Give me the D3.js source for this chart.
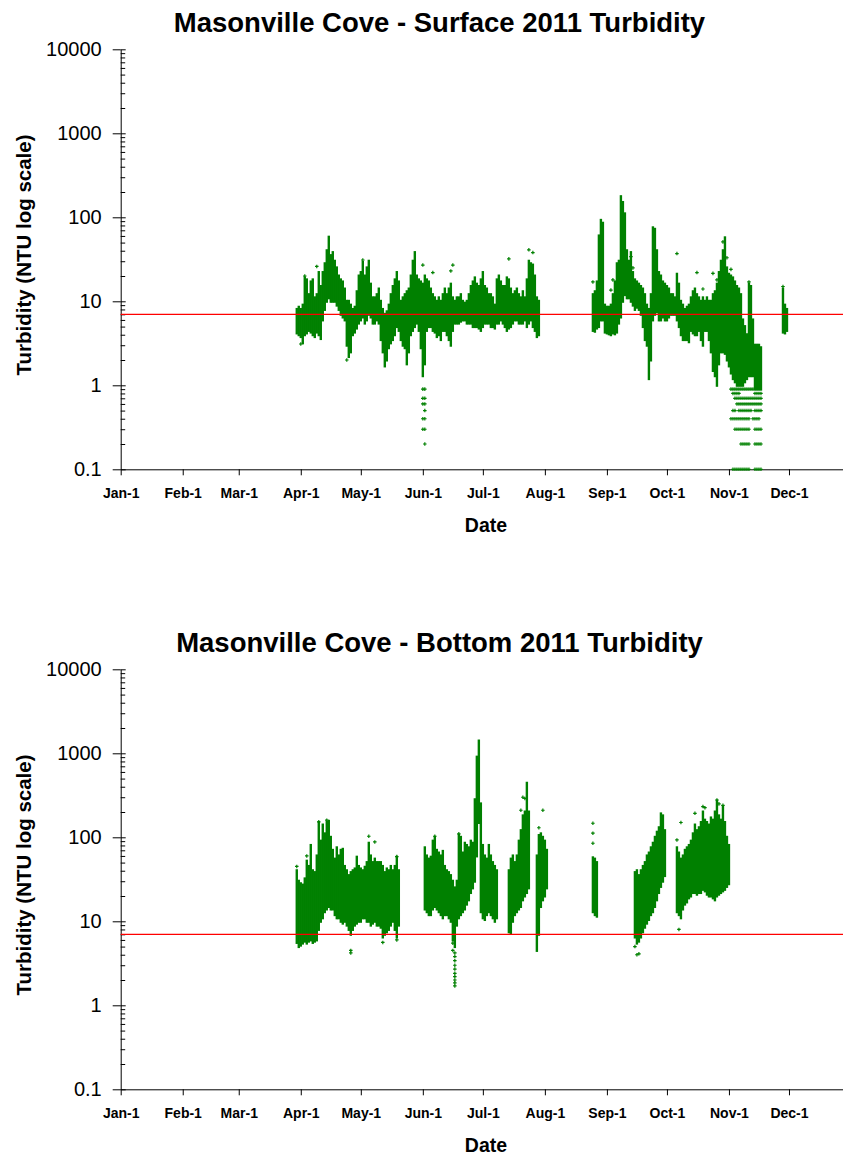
<!DOCTYPE html>
<html>
<head>
<meta charset="utf-8">
<script src="https://cdn.jsdelivr.net/npm/d3@7.9.0/dist/d3.min.js"></script>
<style>
  body { margin: 0; background: #fff; }
  svg { display: block; font-family: Arial, "Liberation Sans", sans-serif; }
</style>
</head>
<body>
<svg id="chart" width="843" height="1155"></svg>
<script>
// day of year (0 = Jan 1 2011), daily low and high turbidity (NTU)
const surfaceDaily = [
  [88,4.2,8],[89,4,8.5],[90,3.8,8],[91,3.2,9],[92,4,19],[93,4.2,18],[94,4.5,12],[95,4.3,17],
  [96,4,18],[97,3.8,11],[98,4.3,12],[99,4,22],[100,3.6,15],[101,6,22],[102,8,28],[103,10,40],
  [104,11,58],[105,10,35],[106,10,38],[107,10,30],[108,9,25],[109,8,20],[110,7,18],[111,6.5,17],
  [112,6,14],[113,3,10],[114,2.2,10],[115,2.5,9],[116,4,8],[117,4.3,8.5],[118,4.8,13],[119,5.5,20],
  [120,6,22],[121,6.5,29],[122,5.5,20],[123,6,25],[124,7,30],[125,6.5,16],[126,5.5,11],[127,5.5,11],
  [128,6,12],[129,5.5,14],[130,3.5,10],[131,2.5,8],[132,1.7,7],[133,2,7.5],[134,2.8,9],[135,3.2,12],
  [136,3.5,15],[137,4,18],[138,5,22],[139,4.5,17],[140,3.5,10],[141,3,11],[142,2.8,12],[143,1.8,13],
  [144,2.5,14],[145,4,20],[146,4.5,30],[147,5,38],[148,5.5,20],[149,4.5,18],[150,2.8,17],[151,1.3,16],
  [152,1.8,20],[153,4.5,18],[154,5,17],[155,5,14],[156,4.5,12],[157,4.3,11],[158,3.8,10],[159,4,11],
  [160,3.5,10],[161,4.5,12],[162,4.5,14],[163,4,12],[164,3.5,14],[165,3,16],[166,4.5,11],[167,5.5,10],
  [168,5.5,11],[169,5.5,11],[170,5.8,12],[171,6,10],[172,6,9.5],[173,5.5,10],[174,5.5,12],[175,5.5,15],
  [176,5,17],[177,5,19],[178,5,16],[179,4.8,15],[180,4.5,18],[181,5,22],[182,5.5,15],[183,5.5,14],
  [184,5.5,12],[185,5,12],[186,5,11],[187,4.8,9],[188,5.5,18],[189,5.5,20],[190,6,17],[191,5.5,15],
  [192,5,15],[193,4.5,19],[194,4.8,18],[195,5,14],[196,5.5,12],[197,6,13],[198,6,14],[199,5.5,12],
  [200,5.5,11],[201,5.5,13],[202,6,11],[203,5,18],[204,5.5,30],[205,6,28],[206,5,27],[207,4.5,20],
  [208,3.8,11],[209,4,10],
  [236,4.5,12],[237,4.4,13],[238,4.8,17],[239,5,60],[240,6,92],[241,6,85],[242,4.3,9],[243,4.2,8.5],
  [244,4.1,8.5],[245,4,9],[246,4.2,12],[247,4.1,17],[248,4.3,28],[249,5.5,30],[250,6.5,176],[251,10,150],
  [252,12,110],[253,11,40],[254,11,30],[255,10,38],[256,9,22],[257,8,18],[258,8.5,17],[259,8,16],
  [260,7,15],[261,5,14],[262,3.5,12],[263,3,9],[264,1.2,8],[265,2,12],[266,6,75],[267,7,72],
  [268,7.5,40],[269,6,22],[270,6,20],[271,6.5,17],[272,6,16],[273,6,15],[274,6.5,14],[275,7,12],
  [276,7,12],[277,7,11],[278,6,21],[279,5,16],[280,4,10],[281,3.5,9],[282,3.5,8],[283,3.5,8.5],
  [284,3.3,9],[285,4.5,11],[286,4.2,13],[287,4,14],[288,4,12],[289,4.5,11],[290,3.5,10],[291,3,11],
  [292,4.5,10],[293,4.5,11],[294,3.5,10],[295,2.5,10],[296,1.5,12],[297,1.3,13],[298,1,16],[299,1.8,22],
  [300,2.5,30],[301,2.5,40],[302,2.4,57],[303,2,25],[304,1.7,21],[305,1.4,20],[306,1.2,19],[307,1.1,17],
  [308,1,15],[309,1,14],[310,1,12],[311,1,6],[312,1.1,5],[313,1.2,4],[314,1.3,16],[315,1.3,15],
  [316,1.3,6],[317,0.9,3],[318,0.9,3],[319,0.9,3],[320,0.9,2.8],
  [331,4.3,14],[332,4.2,9],[333,4.5,8]
];

// single readings away from the dense bands
const surfaceSingles = [
  [151,0.9],[152,0.9],[151,0.7],[152,0.7],[151,0.6],[152,0.6],[152,0.5],[151,0.4],[152,0.4],
  [151,0.3],[152,0.3],[152,0.2],[92,20],[98,26],[121,31],[151,27],[156,22],[166,27],[165,23],
  [194,32],[204,41],[206,38],[113,2],[90,3.1],[236,17],[246,18],[245,13.6],[255,34],[256,25],
  [278,37],[288,22],[291,14],[296,21.5],[298,18],[301,51],[303,33],[305,24],[314,17],[331,15]
];

// November low readings fall on the 0.1 NTU resolution steps
const surfaceSteps = [0.9, 0.8, 0.7, 0.6, 0.5, 0.4, 0.3, 0.2, 0.1];
const surfaceStepDays = [
  [305,306,307,308,309,310,311,312,313,314,315,316],
  [306,307,308,309,317,318,319,320],
  [307,308,309,310,311,312,313,314,315,316,317,318,319,320],
  [308,309,310,311,312,313,314,315,316,317,318,319,320],
  [306,307,309,310,311,312,313,314,315,317,318,319,320],
  [305,306,307,308,309,310,311,312,313,314,316,317,318,319],
  [307,308,309,310,311,312,313,314,317,318,319,320],
  [310,311,312,313,314,317,318,319,320],
  [306,307,308,309,310,311,312,313,314,317,318,319,320]
];

const bottomDaily = [
  [88,5.6,40],[89,5,30],[90,5.2,28],[91,5.5,27],[92,5.8,32],[93,5.5,52],[94,5.8,45],[95,6,80],
  [96,5.6,40],[97,5.8,38],[98,6,60],[99,8,150],[100,10,90],[101,11,140],[102,13,110],[103,14,150],
  [104,15,155],[105,14,100],[106,14,70],[107,12,55],[108,11,75],[109,11,60],[110,10,70],[111,9.5,72],
  [112,10,45],[113,9,40],[114,8,35],[115,7,38],[116,8,40],[117,9,42],[118,9.5,58],[119,10,45],
  [120,10,42],[121,11,40],[122,11,44],[123,10,50],[124,10,85],[125,9,60],[126,9.5,50],[127,10,55],
  [128,9,50],[129,9,50],[130,8.5,50],[131,6.5,45],[132,7,38],[133,7.5,42],[134,8,40],[135,9,45],
  [136,10,40],[137,8,45],[138,6.5,58],[139,9,40],
  [152,14,75],[153,13,60],[154,12,55],[155,12,58],[156,14,90],[157,15,100],[158,14,70],[159,13,65],
  [160,12,60],[161,11,68],[162,12,45],[163,12,40],[164,11,38],[165,10,35],[166,6,30],[167,5,25],
  [168,9,30],[169,11,105],[170,12,100],[171,13,65],[172,14,85],[173,16,80],[174,18,75],[175,22,90],
  [176,25,85],[177,30,280],[178,60,900],[179,150,1400],[180,13,250],[181,11,80],[182,10.5,60],[183,12,55],
  [184,13,80],[185,12,60],[186,11,50],[187,10,45],[188,11,40],
  [194,7.5,40],[195,7.2,55],[196,10,60],[197,12,50],[198,13,60],[199,14,90],[200,15,120],[201,18,180],
  [202,20,200],[203,22,440],[204,25,200],
  [208,4.5,60],[209,7,105],[210,15,110],[211,18,100],[212,20,90],[213,25,70],
  [236,13,57],[237,12,55],[238,11.5,50],
  [257,6.5,38],[258,5.5,40],[259,5.8,35],[260,6.5,40],[261,7.5,45],[262,8.5,50],[263,9.5,60],[264,10.5,65],
  [265,12,75],[266,13,85],[267,15,100],[268,18,115],[269,22,130],[270,26,190],[271,30,180],[272,35,120],
  [278,13,75],[279,12,65],[280,11,55],[281,14,60],[282,16,70],[283,17,75],[284,19,80],[285,20,90],
  [286,22,110],[287,22,140],[288,21,120],[289,22,130],[290,22,150],[291,24,200],[292,23,160],[293,21,150],
  [294,20,140],[295,20,170],[296,19,160],[297,18,200],[298,20,270],[299,21,180],[300,22,160],[301,23,230],
  [302,24,150],[303,26,100],[304,28,80]
];

const bottomSingles = [
  [115,4.2],[115,4.5],[131,5.6],[138,6],[124,103],[127,88],[138,59],[99,153],[103,160],[88,45],[93,60],
  [166,5.5],[166,4.5],[167,4.2],[167,3.8],[167,3.4],[167,3],[167,2.7],[167,2.4],[167,2.2],[167,2],
  [167,1.85],[167,1.7],[157,103],[169,110],[200,210],[201,300],[202,290],[211,210],[209,130],
  [236,147],[236,112],[236,85],[257,5],[258,4],[259,4.1],[279,8],[278,93],[280,150],[287,193],
  [291,232],[292,225],[298,278],[299,250],[301,240]
];

const yMajor = [0.1, 1, 10, 100, 1000, 10000];
const threshold = 7;
const green = '#008000';

const year0 = new Date(2011, 0, 1);
const toDate = (d) => d3.timeDay.offset(year0, d);
const months = d3.timeMonth.range(year0, new Date(2011, 11, 2));

const svg = d3.select('#chart');

function drawPanel(top, title, daily, singles, stepDays) {
  const g = svg.append('g').attr('transform', `translate(0,${top})`);
  const x = d3.scaleTime().domain([year0, new Date(2012, 0, 1)]).range([120.7, 851]);
  const y = d3.scaleLog().domain([0.1, 10000]).range([469.3, 49.3]);

  g.append('text')
    .attr('x', 439.5).attr('y', 32)
    .attr('text-anchor', 'middle')
    .attr('font-size', 27.5).attr('font-weight', 'bold')
    .text(title);

  g.append('text')
    .attr('transform', 'translate(31,255) rotate(-90)')
    .attr('text-anchor', 'middle')
    .attr('font-size', 20.5).attr('font-weight', 'bold')
    .text('Turbidity (NTU log scale)');

  g.append('text')
    .attr('x', 486).attr('y', 532)
    .attr('text-anchor', 'middle')
    .attr('font-size', 19.5).attr('font-weight', 'bold')
    .text('Date');

  // x axis
  const xAxis = g.append('g')
    .attr('transform', `translate(0,${y(0.1)})`)
    .call(d3.axisBottom(x).tickValues(months)
      .tickFormat(d3.timeFormat('%b-%-d'))
      .tickSize(6).tickSizeOuter(0).tickPadding(13));
  xAxis.selectAll('text')
    .attr('font-size', 14).attr('font-weight', 'bold')
    .attr('font-family', 'Arial, "Liberation Sans", sans-serif').attr('fill', '#000');

  // y axis: labels + outside ticks, inside ticks, minor ticks
  const yAxis = g.append('g')
    .attr('transform', `translate(${x.range()[0]},0)`)
    .call(d3.axisLeft(y).tickValues(yMajor)
      .tickFormat((d) => (d < 1 ? '0.1' : d3.format('d')(d)))
      .tickSize(8).tickSizeOuter(0).tickPadding(11));
  yAxis.selectAll('text')
    .attr('font-size', 20)
    .attr('font-family', 'Arial, "Liberation Sans", sans-serif').attr('fill', '#000');

  g.append('g')
    .attr('transform', `translate(${x.range()[0]},0)`)
    .call(d3.axisRight(y).tickValues(yMajor).tickFormat('').tickSize(5).tickSizeOuter(0))
    .call((a) => a.select('.domain').remove());

  const minor = y.ticks().filter((v) => !yMajor.includes(v));
  g.append('g')
    .attr('transform', `translate(${x.range()[0]},0)`)
    .call(d3.axisRight(y).tickValues(minor).tickFormat('').tickSize(4.5).tickSizeOuter(0))
    .call((a) => a.select('.domain').remove());

  // daily reading bands
  g.append('g').selectAll('rect')
    .data(daily)
    .join('rect')
    .attr('x', (d) => x(toDate(d[0])) - 1.2)
    .attr('width', 2.4)
    .attr('y', (d) => y(d[2]) - 1.5)
    .attr('height', (d) => y(d[1]) - y(d[2]) + 3)
    .attr('fill', green);

  const cross = d3.symbol(d3.symbolCross, 7);
  const pts = singles.slice();
  if (stepDays) {
    stepDays.forEach((days, i) => days.forEach((day) => pts.push([day, surfaceSteps[i]])));
  }
  g.append('g').selectAll('path')
    .data(pts)
    .join('path')
    .attr('transform', (d) => `translate(${x(toDate(d[0]))},${y(d[1])})`)
    .attr('d', cross)
    .attr('fill', green);

  // 7 NTU reference line
  g.append('line')
    .attr('x1', x.range()[0]).attr('x2', 843)
    .attr('y1', y(threshold)).attr('y2', y(threshold))
    .attr('stroke', '#ff0000').attr('stroke-width', 1.2);
}

drawPanel(0, 'Masonville Cove - Surface 2011 Turbidity', surfaceDaily, surfaceSingles, surfaceStepDays);
drawPanel(620, 'Masonville Cove - Bottom 2011 Turbidity', bottomDaily, bottomSingles, null);
</script>
</body>
</html>
